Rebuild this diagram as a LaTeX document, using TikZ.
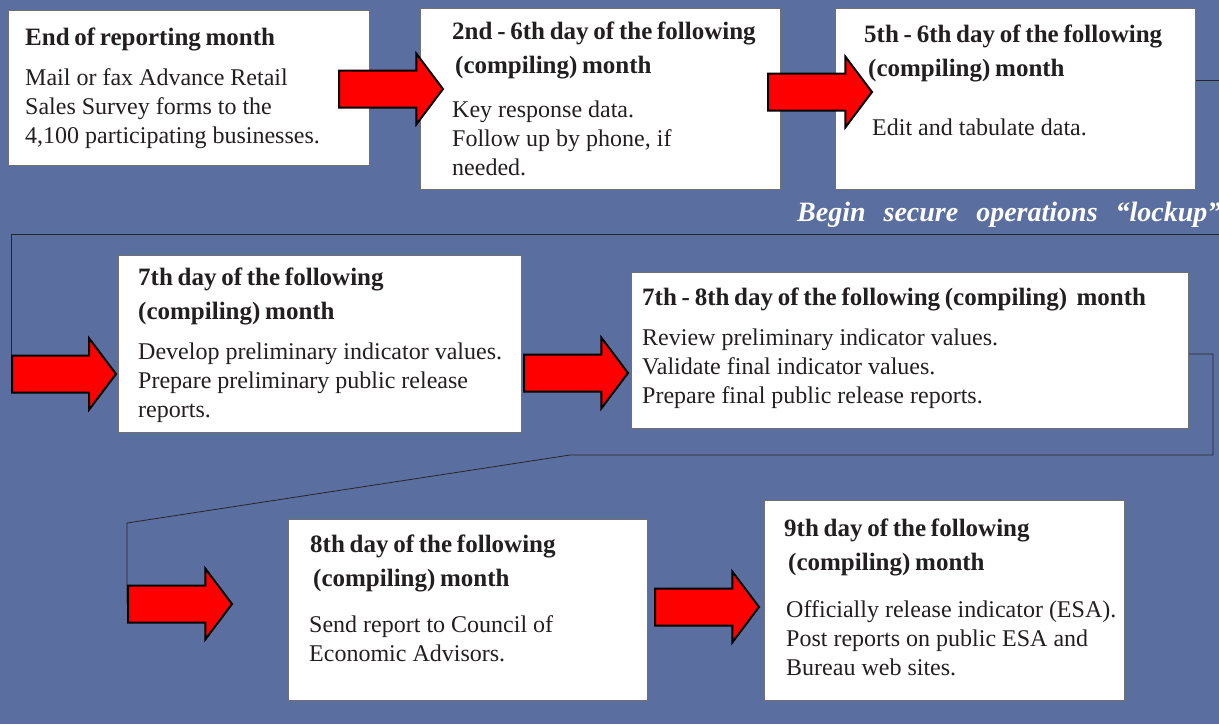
\documentclass[tikz,border=0pt]{standalone}
\usepackage{fontspec}
\setmainfont{Liberation Serif}
\usetikzlibrary{shapes.arrows}
\definecolor{bgblue}{HTML}{5A6EA0}
\definecolor{ink}{HTML}{231F20}
\definecolor{rim}{HTML}{707070}
\newcommand\ttlfnt{\bfseries\fontsize{25}{34}\selectfont\spaceskip 0.19em\relax}
\newcommand\lockfnt{\bfseries\itshape\fontsize{28}{30}\selectfont\spaceskip 18pt\relax}

\begin{document}
\begin{tikzpicture}[x=1pt,y=-1pt,
  box/.style={draw=rim,fill=white,line width=1pt,anchor=north west,inner sep=0pt},
  ttl/.style={anchor=base west,inner sep=0pt,align=left,text=ink,font=\ttlfnt},
  txt/.style={anchor=base west,inner sep=0pt,align=left,text=ink,font=\fontsize{24}{29}\selectfont},
  blk/.style={shape=single arrow,fill=red,draw=black,line width=2pt,inner sep=0pt,anchor=tail,
    text height=17.5pt,text depth=17.5pt,minimum height=104pt,minimum width=69pt,
    single arrow head extend=17pt,single arrow tip angle=106},
  link/.style={draw=black!85,line width=0.8pt}]
\useasboundingbox (0,0) rectangle (1219,724);
\fill[bgblue] (0,0) rectangle (1219,724);
\node[box,minimum width=361pt,minimum height=155pt] (b1) at (8,10) {};
\node[box,minimum width=360pt,minimum height=181pt] (b2) at (420,8) {};
\node[box,minimum width=360pt,minimum height=181pt] (b3) at (835,8) {};
\node[box,minimum width=403pt,minimum height=177pt] (b4) at (118,255) {};
\node[box,minimum width=557pt,minimum height=156pt] (b5) at (631,272) {};
\node[box,minimum width=359pt,minimum height=181pt] (b6) at (288,519) {};
\node[box,minimum width=360pt,minimum height=200pt] (b7) at (764,500) {};
\node[ttl] (h1) at (25,45) {End of reporting month};
\node[txt] (d1) at (25,143) {Mail or fax Advance Retail\\Sales Survey forms to the\\4,100 participating businesses.};
\node[ttl] (h2) at (452,73) {2nd - 6th day of the following\\\hspace{3pt}(compiling) month};
\node[txt] (d2) at (452,175) {Key response data.\\Follow up by phone, if\\needed.};
\node[ttl] (h3) at (864,76) {5th - 6th day of the following\\\hspace{4pt}(compiling) month};
\node[txt] (d3) at (872,135) {Edit and tabulate data.};
\node[ttl] (h4) at (138,319) {7th day of the following\\(compiling) month};
\node[txt] (d4) at (138,417) {Develop preliminary indicator values.\\Prepare preliminary public release\\reports.};
\node[ttl] (h5) at (642,305) {7th - 8th day of the following (compiling)~ month};
\node[txt] (d5) at (642,403) {Review preliminary indicator values.\\Validate final indicator values.\\Prepare final public release reports.};
\node[ttl] (h6) at (310,586) {8th day of the following\\\hspace{3pt}(compiling) month};
\node[txt] (d6) at (309,661) {Send report to Council of\\Economic Advisors.};
\node[ttl] (h7) at (784,570) {9th day of the following\\\hspace{4pt}(compiling) month};
\node[txt] (d7) at (786,675) {Officially release indicator (ESA).\\Post reports on public ESA and\\Bureau web sites.};
\node[anchor=base west,inner sep=0pt,text=white,font=\lockfnt] (lock) at (797,221) {Begin secure operations “lockup”};
\coordinate (e1) at (1219,80);
\coordinate (r1) at (1219,234);
\coordinate (l1) at (11,234);
\coordinate (t3) at (11,374);
\coordinate (e2) at (1213,354);
\coordinate (k1) at (1213,455);
\coordinate (k2) at (570,455);
\coordinate (k3) at (127,523);
\coordinate (t5) at (127,604);
\draw[link] (e1 -| b3.east) -- (e1);
\draw[link] (r1) -- (l1) -- (t3);
\draw[link] (e2 -| b5.east) -- (e2) -- (k1) -- (k2) -- (k3) -- (t5);
\node[blk] (a1) at (338,89) {};
\node[blk] (a2) at (767,92) {};
\node[blk] (a3) at (t3) {};
\node[blk] (a4) at (523,373) {};
\node[blk] (a5) at (t5) {};
\node[blk] (a6) at (654,607) {};
\end{tikzpicture}
\end{document}
